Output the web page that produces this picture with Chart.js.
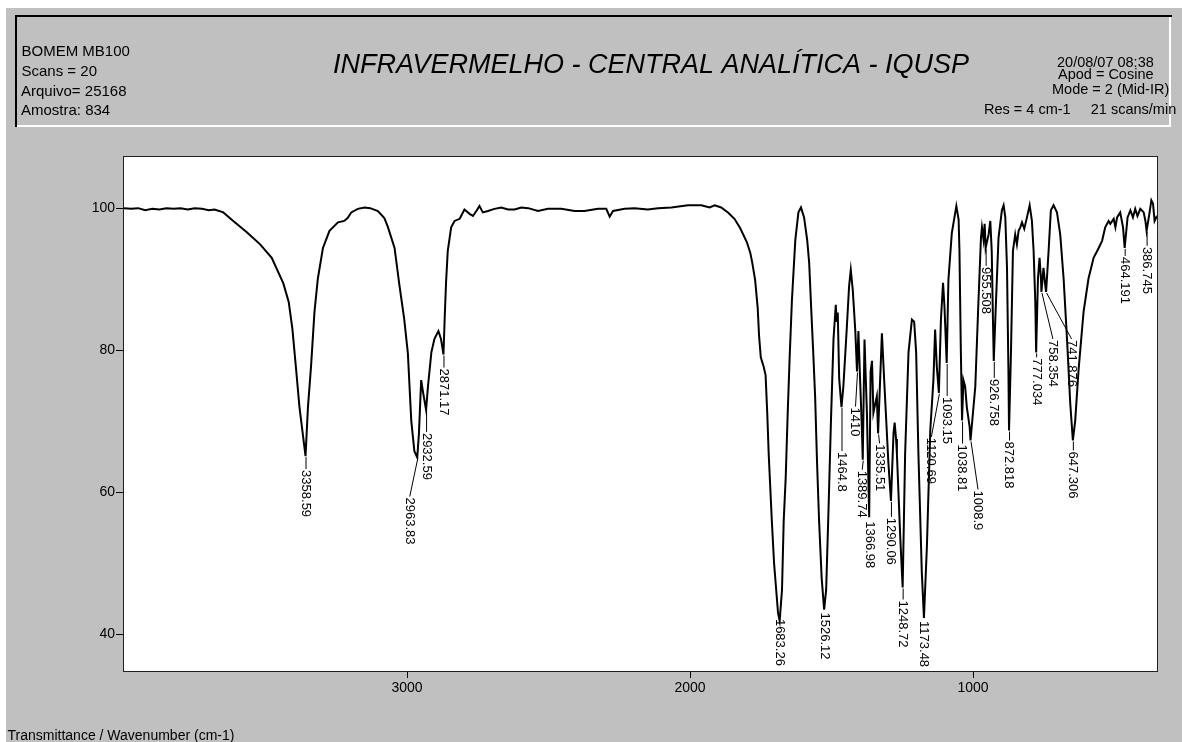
<!DOCTYPE html>
<html><head><meta charset="utf-8">
<script src="https://cdn.jsdelivr.net/npm/chart.js@4.4.1/dist/chart.umd.min.js"></script>
<style>html,body{margin:0;padding:0;background:#fff;overflow:hidden}#wrap{width:1182px;height:742px;position:relative}</style>
</head><body><div id="wrap"><canvas id="c"></canvas></div>
<script>
// ---- data ----
const wavenumbers = [
4000,3975,3950,3925,3900,3875,3850,3825,3800,3775,
3750,3725,3700,3680,3649,3614,3566,3519,3478,3437,
3418,3405,3393,3380,3358.59,3350,3339,3327,3315,3297,
3274,3244,3222,3210,3197,3174,3150,3130,3103,3080,
3068,3044,3027,3010,2997,2985,2974,2963.83,2958,2950,
2943,2932.59,2926,2914,2903,2889,2880,2871.17,2867,2862,
2856,2844,2832,2814,2797,2779,2767,2755,2744,2732,
2714,2691,2667,2643,2620,2596,2572,2537,2502,2455,
2408,2373,2325,2296,2284,2272,2231,2196,2149,2113,
2066,2007,1960,1931,1913,1890,1866,1843,1823,1799,
1787,1780,1770,1761,1756,1750,1740,1733,1727,1722,
1711,1703,1696,1689,1683.26,1675,1669,1662,1655,1648,
1640,1628,1617,1608,1597,1586,1579,1572,1565,1558,
1551,1544,1535,1526.12,1519,1511,1502,1493,1485,1482,
1478,1473,1464.8,1458,1446,1438,1432,1425,1416,1410,
1405,1399,1393,1389.74,1383.5,1375,1366.98,1362,1357,1352,
1340,1335.51,1322,1314,1299,1290.06,1281,1277,1272,1269,
1257,1248.72,1240,1228,1216,1208,1201,1193,1181,1173.48,
1163,1151,1140,1134,1128,1120.69,1113.5,1106,1101,1093.15,
1087,1075,1059,1051,1048,1043,1038.81,1034,1028,1022,
1012,1008.9,992,981,972,968.5,963,959,955.508,945,
939,934,930,926.758,919,910,898,892,886,880,
875,872.818,866,859,851,845,839,833,827,819,
809.5,800,792,786,780,777.034,770.6,765,760,758.354,
751,745,741.876,733,725,715.5,703.5,692,680,668,
656.5,647.306,639,627,609.5,592,574,556,544,533,
521,515,503,497,491,480,470,464.191,454,444,
435,427,419,409,397,391,386.745,377,370,364,
358.5,352.5,350];
const transmittance = [
100.0,99.9,100.0,99.7,99.9,99.8,100.0,99.9,100.0,99.8,
100.0,99.9,99.7,99.8,99.4,98.2,96.6,94.9,93.0,89.4,
86.8,83.0,77.8,72.0,65.1,72.0,77.8,85.4,90.1,94.4,
96.8,98.0,98.2,98.6,99.4,99.9,100.1,100.0,99.6,98.6,
97.4,94.4,89.2,84.4,79.6,70.1,65.8,64.9,68.2,75.8,
74.0,71.6,74.9,79.7,81.6,82.7,81.6,79.4,84.4,89.6,
94.0,97.3,98.2,98.5,99.8,99.2,98.9,99.6,100.3,99.4,
99.6,99.9,100.1,99.8,99.8,100.1,100.0,99.6,99.9,99.9,
99.6,99.6,99.9,99.9,98.8,99.6,99.9,100.0,99.8,100.0,
100.1,100.4,100.4,100.1,100.4,100.1,99.4,98.5,97.2,95.2,
93.7,92.3,89.9,86.0,82.0,79.0,77.7,76.5,71.0,65.4,
56.0,50.0,46.5,43.0,41.9,46.3,56.0,62.0,71.0,79.0,
87.0,95.5,99.4,100.1,98.7,95.5,92.3,86.0,80.0,73.5,
64.0,56.0,48.0,43.5,46.3,57.1,70.1,81.6,86.4,84.0,
85.3,76.0,72.0,75.0,83.2,89.0,91.3,88.5,82.7,77.0,
82.7,75.8,69.2,64.6,81.5,71.2,56.5,77.0,78.5,71.2,
73.5,68.3,82.4,75.8,64.1,58.8,68.3,69.8,67.5,65.4,
53.5,46.6,65.4,79.7,84.3,84.0,79.7,65.4,48.7,42.3,
52.4,68.8,75.8,82.9,77.7,74.0,84.3,89.5,86.2,78.2,
89.9,96.5,100.3,98.4,94.0,79.7,70.1,75.8,74.9,72.0,
69.2,67.3,74.9,86.8,95.8,97.3,95.6,97.8,94.4,96.3,
98.2,94.0,85.0,78.5,86.8,95.8,99.7,100.4,98.7,91.6,
77.3,68.7,79.7,94.0,96.3,94.9,96.8,97.3,98.0,97.1,
98.7,100.4,98.2,94.0,86.8,79.7,90.1,93.0,90.1,88.2,
91.6,89.2,88.2,94.0,99.7,100.4,99.4,96.3,90.1,81.6,
72.5,67.3,70.1,77.3,85.4,90.1,93.0,94.4,95.4,97.3,
98.2,97.8,98.5,97.3,98.7,99.4,97.3,94.4,98.7,99.7,
98.7,99.9,98.9,99.9,99.4,98.2,96.8,99.2,101.1,100.6,
98.2,98.7,98.5];
const xTicks = [3000, 2000, 1000];
const yTicks = [40, 60, 80, 100];
const peakWavenumbers = [3358.59, 2963.83, 2932.59, 2871.17, 1683.26, 1526.12, 1464.8, 1410, 1389.74, 1366.98,
  1335.51, 1290.06, 1248.72, 1173.48, 1120.69, 1093.15, 1038.81, 1008.9, 955.508, 926.758,
  872.818, 777.034, 758.354, 741.876, 647.306, 464.191, 386.745];
const headerLeft = ["BOMEM MB100", "Scans = 20", "Arquivo= 25168", "Amostra: 834"];
const headerRight = ["20/08/07 08:38", "Apod = Cosine", "Mode = 2 (Mid-IR)", "Res = 4 cm-1     21 scans/min"];
const titleText = "INFRAVERMELHO - CENTRAL ANALÍTICA - IQUSP";
const captionText = "Transmittance / Wavenumber (cm-1)";

// ---- layout / style (not data) ----
const FONT = "'Liberation Sans', Arial, sans-serif";
// [dx px, drop px] of each peak label relative to its peak point
const labelLayout = [[0,13],[-8,39],[0,22],[0,13],[0,-3],[0,2],[0,44],[-2,35],[-1,10],[0,3],
  [1,10],[0,16],[0,12],[0,2],[-8,44],[0,33],[0,23],[7,49],[0,18],[0,17],
  [0,10],[0,5],[11,47],[25,47],[0,10],[0,8],[0,15]];
const headerLeftPos = [[21.5,56],[21.5,76],[21,96],[21,115]];
const headerRightPos = [[1057,67],[1058,79],[1052,94],[984,114]];

const chromePlugin = {
  id: 'chrome',
  beforeDraw(chart) {
    const ctx = chart.ctx, W = chart.width, H = chart.height, a = chart.chartArea;
    ctx.save();
    ctx.fillStyle = '#ffffff'; ctx.fillRect(0, 0, W, H);
    ctx.fillStyle = '#c0c0c0'; ctx.fillRect(6, 8, W - 6, H - 8);
    ctx.fillStyle = '#000000'; ctx.fillRect(15, 15, 1157, 2); ctx.fillRect(15, 15, 2, 112);
    ctx.fillStyle = '#ffffff'; ctx.fillRect(17, 125, 1154, 2); ctx.fillRect(1169, 17, 2, 110);
    ctx.fillStyle = '#000000'; ctx.textAlign = 'left'; ctx.textBaseline = 'alphabetic';
    ctx.font = '15px ' + FONT;
    headerLeft.forEach((t, i) => ctx.fillText(t, headerLeftPos[i][0], headerLeftPos[i][1]));
    ctx.font = '14.5px ' + FONT;
    headerRight.forEach((t, i) => ctx.fillText(t, headerRightPos[i][0], headerRightPos[i][1]));
    ctx.font = 'italic 27px ' + FONT;
    ctx.fillText(titleText, 333, 73);
    ctx.fillStyle = '#ffffff'; ctx.fillRect(a.left, a.top, a.right - a.left, a.bottom - a.top);
    ctx.restore();
  },
  afterDatasetsDraw(chart) {
    const ctx = chart.ctx, a = chart.chartArea, xs = chart.scales.x, ys = chart.scales.y;
    ctx.save();
    ctx.strokeStyle = '#202020'; ctx.lineWidth = 1;
    ctx.strokeRect(a.left - 0.5, a.top - 0.5, a.right - a.left + 1, a.bottom - a.top + 1);
    ctx.strokeStyle = '#000';
    ctx.font = '13px ' + FONT; ctx.fillStyle = '#000';
    peakWavenumbers.forEach((wn, i) => {
      const T = transmittance[wavenumbers.indexOf(wn)];
      const px = xs.getPixelForValue(wn), py = ys.getPixelForValue(T);
      const [dx, drop] = labelLayout[i];
      if (drop > 3) {
        ctx.beginPath(); ctx.moveTo(px + 0.5, py + 1); ctx.lineTo(px + dx + 0.5, py + drop); ctx.stroke();
      }
      ctx.save();
      ctx.translate(px + dx, py + drop + 1);
      ctx.rotate(Math.PI / 2);
      ctx.textAlign = 'left'; ctx.textBaseline = 'middle';
      ctx.fillText(String(wn), 0, 0);
      ctx.restore();
    });
    ctx.restore();
  },
  afterDraw(chart) {
    const ctx = chart.ctx;
    ctx.save();
    ctx.fillStyle = '#000'; ctx.font = '14px ' + FONT; ctx.textAlign = 'left'; ctx.textBaseline = 'alphabetic';
    ctx.fillText(captionText, 7.5, 740);
    ctx.restore();
  }
};

new Chart(document.getElementById('c'), {
  type: 'scatter',
  data: { datasets: [{
    data: wavenumbers.map((w, i) => ({ x: w, y: transmittance[i] })),
    showLine: true, borderColor: '#000', borderWidth: 2, pointRadius: 0, tension: 0, fill: false
  }]},
  options: {
    responsive: true, maintainAspectRatio: false, animation: false,
    layout: { padding: { top: 157, right: 25, bottom: 21, left: 0 } },
    plugins: { legend: { display: false }, tooltip: { enabled: false } },
    scales: {
      x: {
        type: 'linear', reverse: true, min: 350, max: 4000,
        afterBuildTicks: s => { s.ticks = xTicks.map(v => ({ value: v })); },
        afterFit: s => { s.height = 50; },
        ticks: { color: '#000', font: { family: FONT, size: 14 }, padding: 2, maxRotation: 0, autoSkip: false, callback: v => String(v) },
        grid: { drawOnChartArea: false, drawTicks: true, tickLength: 7, color: '#000' },
        border: { display: false }
      },
      y: {
        type: 'linear', min: 34.85, max: 107.2,
        afterBuildTicks: s => { s.ticks = yTicks.map(v => ({ value: v })); },
        afterFit: s => { s.width = 124; },
        ticks: { color: '#000', font: { family: FONT, size: 14 }, padding: 1, callback: v => String(v) },
        grid: { drawOnChartArea: false, drawTicks: true, tickLength: 8, color: '#000' },
        border: { display: false }
      }
    }
  },
  plugins: [chromePlugin]
});
</script></body></html>
